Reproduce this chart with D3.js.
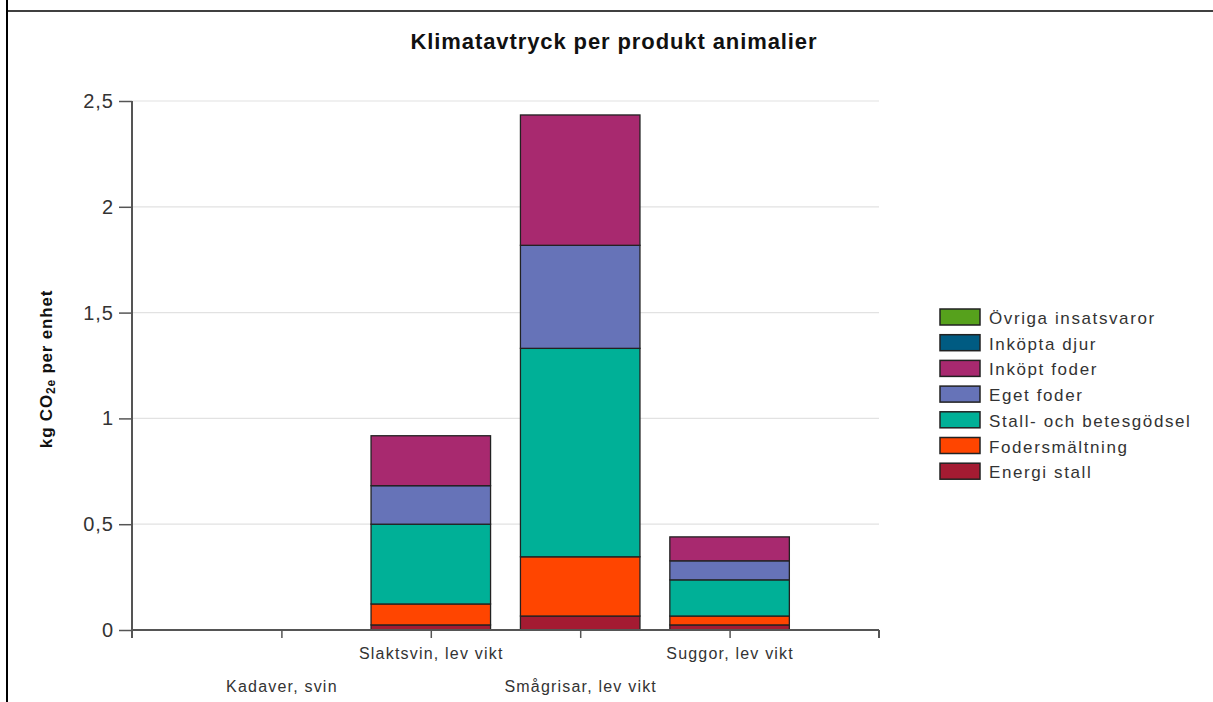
<!DOCTYPE html>
<html lang="sv"><head>
<meta charset="utf-8">
<title>Klimatavtryck per produkt animalier</title>
<script src="https://cdn.jsdelivr.net/npm/d3@7"></script>
<style>
body { margin: 0; background: #fff; }
text { font-family: "Liberation Sans", Arial, sans-serif; }
</style>
</head>
<body>
<script type="text/javascript">

var width = 1213;
var height = 702;

// data
var categories = ["Kadaver, svin", "Slaktsvin, lev vikt", "Smågrisar, lev vikt", "Suggor, lev vikt"];
var seriesNames = ["Energi stall", "Fodersmältning", "Stall- och betesgödsel", "Eget foder", "Inköpt foder", "Inköpta djur", "Övriga insatsvaror"];
var energiStall   = [0, 0.024, 0.066, 0.024];
var fodersmaltn   = [0, 0.099, 0.280, 0.042];
var stallGodsel   = [0, 0.377, 0.985, 0.171];
var egetFoder     = [0, 0.182, 0.487, 0.090];
var inkoptFoder   = [0, 0.236, 0.616, 0.113];
var inkoptaDjur   = [0, 0, 0, 0];
var ovriga        = [0, 0, 0, 0];
var yTicks = [0, 0.5, 1, 1.5, 2, 2.5];
var colors = ["#a41b32", "#ff4500", "#00b097", "#6673b8", "#a8296f", "#005b82", "#56a11c"];

var seriesValues = [energiStall, fodersmaltn, stallGodsel, egetFoder, inkoptFoder, inkoptaDjur, ovriga];

var rows = categories.map(function(c, i){
    var r = {cat: c};
    seriesNames.forEach(function(s, j){ r[s] = seriesValues[j][i]; });
    return r;
});

var svg = d3.select("body").append("svg")
            .attr("width", width)
            .attr("height", height);

// frame lines
svg.append("line").attr("x1", 7).attr("x2", 7).attr("y1", 0).attr("y2", height)
    .attr("stroke", "#000").attr("stroke-width", 2);
svg.append("line").attr("x1", 7).attr("x2", 1213).attr("y1", 11).attr("y2", 11)
    .attr("stroke", "#000").attr("stroke-width", 1.3);

var plotL = 132, plotR = 879, plotT = 101, plotB = 630;

var x = d3.scalePoint().domain(categories).range([plotL, plotR]).padding(1);
var y = d3.scaleLinear().domain([0, 2.5]).range([plotB, plotT]);
var barW = x.step() * 0.8;

// gridlines
svg.append("g").selectAll("line")
    .data(yTicks.filter(function(d){ return d > 0; }))
    .enter().append("line")
    .attr("x1", plotL).attr("x2", plotR)
    .attr("y1", function(d){ return y(d); })
    .attr("y2", function(d){ return y(d); })
    .attr("stroke", "#e2e2e2").attr("stroke-width", 1.2);

// bars
var stack = d3.stack().keys(seriesNames)(rows);

svg.append("g").selectAll("g")
    .data(stack)
    .enter().append("g")
    .attr("fill", function(d, i){ return colors[i]; })
    .selectAll("rect")
    .data(function(d){ return d.filter(function(p){ return p[1] - p[0] > 0; }); })
    .enter().append("rect")
    .attr("x", function(d){ return x(d.data.cat) - barW / 2; })
    .attr("width", barW)
    .attr("y", function(d){ return y(d[1]); })
    .attr("height", function(d){ return y(d[0]) - y(d[1]); })
    .attr("stroke", "#222")
    .attr("stroke-width", 1.3);

// y axis
var yAxis = svg.append("g")
    .attr("transform", "translate(" + plotL + ",0)")
    .call(d3.axisLeft(y).tickValues(yTicks).tickSize(13).tickPadding(5)
        .tickFormat(function(d){ return d3.format("")(d).replace(".", ","); }));
yAxis.select(".domain").remove();
yAxis.append("line").attr("x1", 0).attr("x2", 0).attr("y1", plotT).attr("y2", plotB + 8)
    .attr("stroke", "#555").attr("stroke-width", 2);
yAxis.selectAll(".tick line").attr("stroke", "#555").attr("stroke-width", 1.5);
yAxis.selectAll(".tick text").attr("fill", "#333")
    .style("font-size", "20px").style("letter-spacing", "1px")
    .style("font-family", "'Liberation Sans', Arial, sans-serif");

// x axis
var xAxis = svg.append("g")
    .attr("transform", "translate(0," + plotB + ")")
    .call(d3.axisBottom(x).tickSize(8).tickSizeOuter(0));
xAxis.select(".domain").remove();
xAxis.append("line").attr("x1", plotL).attr("x2", plotR).attr("y1", 0).attr("y2", 0)
    .attr("stroke", "#555").attr("stroke-width", 2);
xAxis.append("line").attr("x1", plotR).attr("x2", plotR).attr("y1", 0).attr("y2", 8)
    .attr("stroke", "#555").attr("stroke-width", 2);
xAxis.selectAll(".tick line").attr("stroke", "#555").attr("stroke-width", 1.5);
xAxis.selectAll(".tick text")
    .attr("fill", "#333")
    .attr("y", function(d, i){ return i % 2 === 0 ? 51 : 18; })
    .style("font-size", "16px").style("letter-spacing", "1.2px")
    .style("font-family", "'Liberation Sans', Arial, sans-serif");

// title
svg.append("text")
    .attr("x", 614).attr("y", 49)
    .attr("text-anchor", "middle")
    .style("font-size", "22px").style("font-weight", "bold")
    .style("letter-spacing", "0.9px")
    .attr("fill", "#111")
    .text("Klimatavtryck per produkt animalier");

// y label
var yl = svg.append("text")
    .attr("transform", "translate(52,369) rotate(-90)")
    .attr("text-anchor", "middle")
    .style("font-size", "17px").style("font-weight", "bold")
    .style("letter-spacing", "0.8px")
    .attr("fill", "#111");
yl.append("tspan").text("kg CO");
yl.append("tspan").attr("dy", 3).style("font-size", "12px").text("2e");
yl.append("tspan").attr("dy", -3).text(" per enhet");

// legend
var legendOrder = seriesNames.slice().reverse();
var legendColors = colors.slice().reverse();
var lg = svg.append("g").selectAll("g")
    .data(legendOrder)
    .enter().append("g")
    .attr("transform", function(d, i){ return "translate(940," + (309 + i * 25.7) + ")"; });
lg.append("rect").attr("width", 40).attr("height", 16)
    .attr("fill", function(d, i){ return legendColors[i]; })
    .attr("stroke", "#222").attr("stroke-width", 1.5);
lg.append("text").attr("x", 49).attr("y", 15)
    .style("font-size", "17px").style("letter-spacing", "1.6px").attr("fill", "#333")
    .text(function(d){ return d; });

</script>
</body></html>
